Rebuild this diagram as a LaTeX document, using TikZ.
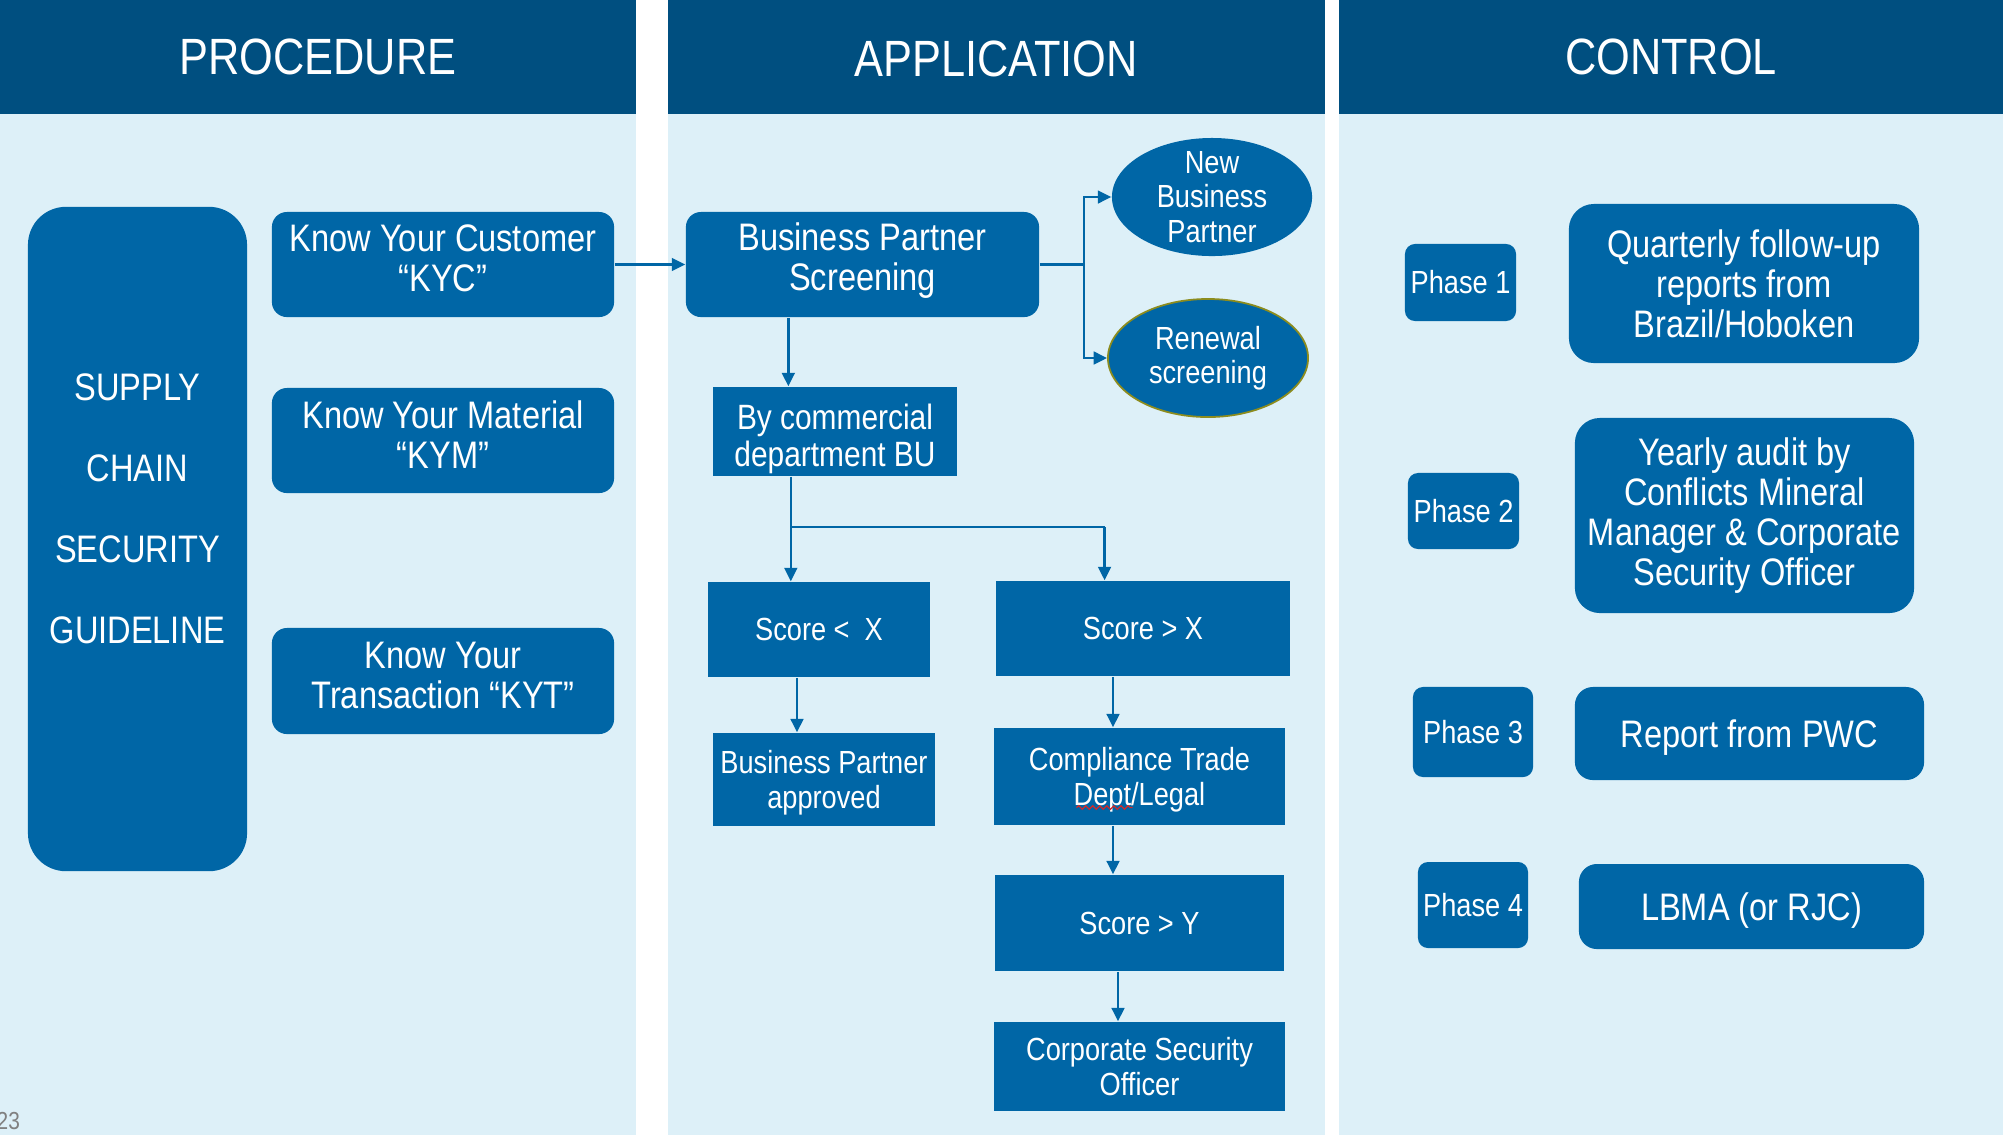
\documentclass[tikz,border=0pt]{standalone}
\usepackage{fontspec}
\setmainfont[FakeStretch=0.85]{Liberation Sans}
\usetikzlibrary{shapes.geometric,arrows.meta,calc,decorations.pathmorphing}
\definecolor{hdrblue}{RGB}{0,79,128}
\definecolor{boxblue}{RGB}{0,102,166}
\definecolor{paleblue}{RGB}{221,240,248}
\definecolor{rimolive}{RGB}{140,140,30}
\definecolor{spellred}{RGB}{210,40,40}
\newcommand{\headsize}{\fontsize{14.5}{15}\selectfont}
\newcommand{\bigsize}{\fontsize{10.9}{11.4}\selectfont}
\newcommand{\midsize}{\fontsize{10}{10.6}\selectfont}
\newcommand{\smallsize}{\fontsize{9.1}{9.8}\selectfont}

\begin{document}
\begin{tikzpicture}[x=0.01cm,y=-0.01cm]
\tikzstyle{every node}+=[inner sep=0pt, text=white, align=center]
\tikzstyle{rbox}=[fill=boxblue, rounded corners=0.15cm, font=\bigsize]
\tikzstyle{sbox}=[fill=boxblue, font=\smallsize]
\tikzstyle{phase}=[fill=boxblue, rounded corners=0.1cm, font=\smallsize]
\tikzstyle{oval}=[ellipse, fill=boxblue, font=\smallsize, inner ysep=-4pt, minimum width=2cm, minimum height=1.18cm]
\tikzstyle{link}=[boxblue, line width=0.7pt]
\tikzstyle{arr}=[link, -{Triangle[length=3.8pt,width=3.6pt]}]
\useasboundingbox (0,0) rectangle (2003,1135);
% panels
\fill[paleblue] (0,0) rectangle (636,1135);
\fill[paleblue] (668,0) rectangle (1325,1135);
\fill[paleblue] (1339,0) rectangle (2003,1135);
\fill[hdrblue] (0,0) rectangle (636,114);
\fill[hdrblue] (668,0) rectangle (1325,114);
\fill[hdrblue] (1339,0) rectangle (2003,114);
\node[font=\headsize] (hproc) at (318,57) {PROCEDURE};
\node[font=\headsize] (happ) at (996,59) {APPLICATION};
\node[font=\headsize] (hctrl) at (1671,57) {CONTROL};
% procedure
\node[rbox, rounded corners=0.38cm, minimum width=2.19cm, minimum height=6.64cm] (sup) at (137.5,539) {};
\node[font=\bigsize] (suptxt) at (137.5,509) {SUPPLY\\[11.6pt]CHAIN\\[11.6pt]SECURITY\\[11.6pt]GUIDELINE};
\node[rbox, text depth=3.4pt, minimum width=3.42cm, minimum height=1.05cm] (kyc) at (443,264.5) {Know Your Customer\\“KYC”};
\node[rbox, text depth=3.4pt, minimum width=3.42cm, minimum height=1.05cm] (kym) at (443,440.5) {Know Your Material\\“KYM”};
\node[rbox, text depth=3.4pt, minimum width=3.42cm, minimum height=1.06cm] (kyt) at (443,681) {Know Your\\Transaction “KYT”};
% application
\node[rbox, text depth=4.5pt, minimum width=3.53cm, minimum height=1.05cm] (bps) at (862.5,264.5) {Business Partner\\Screening};
\node[oval] (nbp) at (1212,197) {New\\Business\\Partner};
\node[oval, draw=rimolive, line width=0.5pt] (ren) at (1208,358) {Renewal\\screening};
\node[sbox, font=\midsize, text height=19.9pt, text depth=0pt, minimum width=2.44cm, minimum height=0.89cm] (bycom) at (835,431.5) {By commercial\\department BU};
\node[sbox, minimum width=2.22cm, minimum height=0.95cm] (slx) at (819,629.5) {Score <\ \ X};
\node[sbox, minimum width=2.94cm, minimum height=0.95cm] (sgx) at (1143,628.5) {Score > X};
\node[sbox, text depth=0pt, minimum width=2.22cm, minimum height=0.93cm] (bpa) at (824,779.5) {Business Partner\\approved};
\node[sbox, text depth=0pt, minimum width=2.91cm, minimum height=0.97cm] (ctd) at (1139.5,776.5) {Compliance Trade\\Dept/Legal};
\node[sbox, minimum width=2.89cm, minimum height=0.96cm] (sgy) at (1139.5,923) {Score > Y};
\node[sbox, minimum width=2.91cm, minimum height=0.89cm] (cso) at (1139.5,1066.5) {Corporate Security\\Officer};
% spell-check mark under Dept
\draw[spellred, line width=0.35pt, decorate, decoration={snake, amplitude=0.5pt, segment length=2pt}] ($(ctd.center)+(-63,31)$) -- ($(ctd.center)+(-7,31)$);
% control
\node[phase, minimum width=1.11cm, minimum height=0.77cm] (ph1) at (1460.5,282.5) {Phase 1};
\node[rbox, rounded corners=0.25cm, minimum width=3.50cm, minimum height=1.59cm] (qfu) at (1744,283.5) {Quarterly follow-up\\reports from\\Brazil/Hoboken};
\node[phase, minimum width=1.11cm, minimum height=0.76cm] (ph2) at (1463.5,511) {Phase 2};
\node[rbox, rounded corners=0.25cm, minimum width=3.39cm, minimum height=1.95cm] (yau) at (1744.5,515.5) {Yearly audit by\\Conflicts Mineral\\Manager \& Corporate\\Security Officer};
\node[phase, minimum width=1.20cm, minimum height=0.90cm] (ph3) at (1473,732) {Phase 3};
\node[rbox, text depth=0pt, rounded corners=0.18cm, minimum width=3.49cm, minimum height=0.93cm] (pwc) at (1749.5,733.5) {Report from PWC};
\node[phase, minimum width=1.10cm, minimum height=0.86cm] (ph4) at (1473,905) {Phase 4};
\node[rbox, text depth=0pt, rounded corners=0.18cm, minimum width=3.45cm, minimum height=0.85cm] (lbma) at (1751.5,906.5) {LBMA (or RJC)};
\node[text=gray, font=\fontsize{7}{8}\selectfont, anchor=west] (pgno) at (-4,1121) {23};
% connectors
\draw[arr] (kyc.east) -- (bps.west);
\coordinate (fork) at ($(bps.east)+(44,0)$);
\draw[link] (bps.east) -- (fork);
\draw[arr] (fork) |- (nbp.west);
\draw[arr] (fork) |- (ren.west);
\coordinate (bdrop) at ($(bycom.north west)!0.31!(bycom.north east)$);
\draw[arr] (bps.south -| bdrop) -- (bdrop);
\coordinate (jl) at ($(bycom.south west)!0.32!(bycom.south east)+(0,50)$);
\coordinate (jr) at ($(sgx.north west)!0.37!(sgx.north east)$);
\draw[link] (bycom.south -| jl) -- (jl) -- (jl -| jr);
\draw[arr] (jl) -- (jl |- slx.north);
\draw[arr] (jl -| jr) -- (jr);
\coordinate (d1) at ($(slx.south)+(-22,0)$);
\draw[arr] (d1) -- (d1 |- bpa.north);
\coordinate (d2) at ($(sgx.south)+(-30,0)$);
\draw[arr] (d2) -- (d2 |- ctd.north);
\coordinate (d3) at ($(ctd.south)+(-26.5,0)$);
\draw[arr] (d3) -- (d3 |- sgy.north);
\coordinate (d4) at ($(sgy.south)+(-21.5,0)$);
\draw[arr] (d4) -- (d4 |- cso.north);
\end{tikzpicture}
\end{document}
